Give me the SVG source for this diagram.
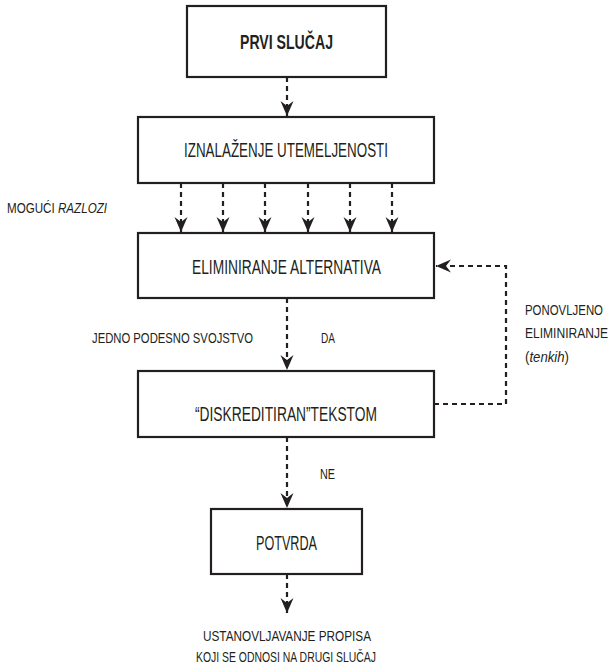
<svg xmlns="http://www.w3.org/2000/svg" width="611" height="667" viewBox="0 0 611 667">
<style>
.box{fill:#fff;stroke:#231f20;stroke-width:2.2}
.t{font-family:"Liberation Sans Narrow","Liberation Sans",Arial,sans-serif;fill:#231f20;font-size:20.5px;text-anchor:middle}
.b{font-weight:bold}
.s{font-family:"Liberation Sans Narrow","Liberation Sans",Arial,sans-serif;fill:#231f20;font-size:15.5px}
.i{font-style:italic}
.c{fill:none;stroke:#231f20;stroke-width:2.2;stroke-dasharray:5 4}
</style>
<defs>
<marker id="ah" markerUnits="userSpaceOnUse" markerWidth="18" markerHeight="16" refX="0" refY="0" viewBox="-16 -8 18 16" orient="auto">
<path d="M0,0 L-15,-6.5 L-10,0 L-15,6.5 Z" fill="#231f20"/>
</marker>
</defs>
<g id="connectors">
<path class="c" d="M287,77 V116" marker-end="url(#ah)"/>
<path class="c" d="M181,183 V232" marker-end="url(#ah)"/>
<path class="c" d="M223,183 V232" marker-end="url(#ah)"/>
<path class="c" d="M265,183 V232" marker-end="url(#ah)"/>
<path class="c" d="M308,183 V232" marker-end="url(#ah)"/>
<path class="c" d="M350,183 V232" marker-end="url(#ah)"/>
<path class="c" d="M392,183 V232" marker-end="url(#ah)"/>
<path class="c" d="M287,298 V370" marker-end="url(#ah)"/>
<path class="c" d="M287,437 V508" marker-end="url(#ah)"/>
<path class="c" d="M287,574 V613" marker-end="url(#ah)"/>
<path class="c" d="M434,404 H506 V266 H436" marker-end="url(#ah)"/>
</g>
<g id="n1">
<rect class="box" x="187" y="6" width="199" height="71" stroke-width="2.5"/>
<text class="t b" x="286.5" y="49" textLength="93" lengthAdjust="spacingAndGlyphs">PRVI SLUČAJ</text>
</g>
<g id="n2">
<rect class="box" x="138" y="117" width="296" height="66"/>
<text class="t" x="286" y="157" textLength="204" lengthAdjust="spacingAndGlyphs">IZNALAŽENJE UTEMELJENOSTI</text>
</g>
<g id="n3">
<rect class="box" x="138" y="233" width="296" height="65"/>
<text class="t" x="286.5" y="274" textLength="189" lengthAdjust="spacingAndGlyphs">ELIMINIRANJE ALTERNATIVA</text>
</g>
<g id="n4">
<rect class="box" x="138" y="371" width="296" height="66"/>
<text class="t" x="286" y="421" textLength="182" lengthAdjust="spacingAndGlyphs">“DISKREDITIRAN”TEKSTOM</text>
</g>
<g id="n5">
<rect class="box" x="211" y="509" width="151" height="65"/>
<text class="t" x="286.5" y="550" textLength="61" lengthAdjust="spacingAndGlyphs">POTVRDA</text>
</g>
<g id="labels">
<text class="s" x="7" y="213" textLength="100" lengthAdjust="spacingAndGlyphs">MOGUĆI <tspan class="i">RAZLOZI</tspan></text>
<text class="s" x="92" y="343" textLength="161" lengthAdjust="spacingAndGlyphs">JEDNO PODESNO SVOJSTVO</text>
<text class="s" x="321" y="343" textLength="14" lengthAdjust="spacingAndGlyphs">DA</text>
<text class="s" x="320" y="479" textLength="15" lengthAdjust="spacingAndGlyphs">NE</text>
<text class="s" x="525" y="315" textLength="78" lengthAdjust="spacingAndGlyphs">PONOVLJENO</text>
<text class="s" x="525" y="338" textLength="83" lengthAdjust="spacingAndGlyphs">ELIMINIRANJE</text>
<text class="s" x="525" y="362" textLength="44" lengthAdjust="spacingAndGlyphs">(<tspan class="i">tenkih</tspan>)</text>
<text class="s" x="287" y="641" text-anchor="middle" textLength="168" lengthAdjust="spacingAndGlyphs">USTANOVLJAVANJE PROPISA</text>
<text class="s" x="286" y="662" text-anchor="middle" textLength="180" lengthAdjust="spacingAndGlyphs">KOJI SE ODNOSI NA DRUGI SLUČAJ</text>
</g>
</svg>
